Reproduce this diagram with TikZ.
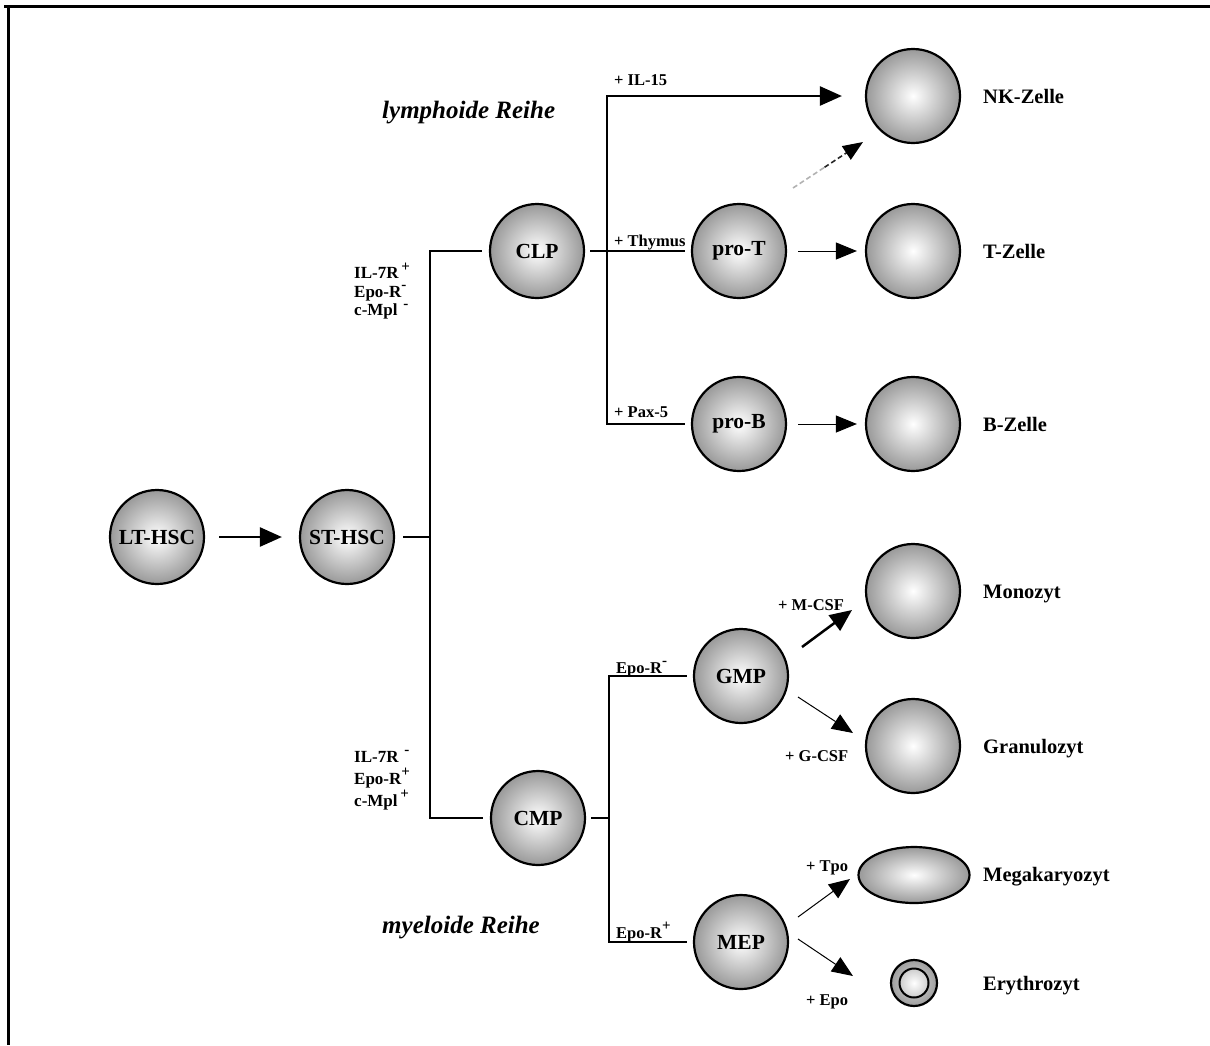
\documentclass[tikz,border=0pt]{standalone}
\usepackage{fontspec}
\setmainfont{Liberation Serif}
\usetikzlibrary{arrows.meta,shapes.geometric,calc}
\newcommand{\supmark}[1]{\raisebox{0.45em}{\fontsize{15}{15}\selectfont #1}}
\begin{document}
\begin{tikzpicture}[x=1pt,y=-1pt,
  cell/.style={circle,draw=black,line width=2.2pt,minimum size=94pt,inner sep=0pt,
    shading=radial,inner color=white,outer color=black!40,
    font=\fontsize{21.5}{23}\bfseries\selectfont},
  lbl/.style={font=\fontsize{16.5}{19}\bfseries\selectfont,inner sep=0pt},
  celllabel/.style={font=\fontsize{20.5}{22}\bfseries\selectfont,inner sep=0pt,anchor=base west},
  titletext/.style={font=\fontsize{25}{28}\bfseries\itshape\selectfont,inner sep=0pt,anchor=west},
  mainline/.style={line width=2.2pt},
  thickarrow/.style={line width=2.5pt,-{Triangle[length=22pt,width=19pt]}},
  thinarrow/.style={line width=1pt,-{Triangle[length=21pt,width=17pt]}},
]
\useasboundingbox (0,0) rectangle (1210,1045);
% frame
\draw[line width=3pt] (4,6) -- (1210,6);
\draw[line width=3pt] (8,5) -- (8,1045);

% cells
\node[cell] (lt) at (157,537) {LT-HSC};
\node[cell] (st) at (347,537) {ST-HSC};
\node[cell] (clp) at (537,251) {CLP};
\node[cell] (cmp) at (538,818) {CMP};
\node[cell] (prot) at (739,251) {pro-T};
\node[cell] (prob) at (739,424) {pro-B};
\node[cell] (gmp) at (741,676) {GMP};
\node[cell] (mep) at (741,942) {MEP};
\node[cell] (nk) at (913,96) {};
\node[cell] (tz) at (913,251) {};
\node[cell] (bz) at (913,424) {};
\node[cell] (mono) at (913,591) {};
\node[cell] (gran) at (913,746) {};
\node[ellipse,draw=black,line width=2.2pt,minimum width=111pt,minimum height=56pt,inner sep=0pt,
  shading=radial,inner color=white,outer color=black!40] (mega) at (914,875) {};
\node[circle,draw=black,line width=2.2pt,minimum size=46pt,inner sep=0pt,
  shading=radial,inner color=black!15,outer color=black!38] (ery) at (914,983) {};
\node[circle,draw=black,line width=2pt,minimum size=29pt,inner sep=0pt,
  shading=radial,inner color=white,outer color=black!20] (eryin) at (ery) {};

% junctions
\coordinate (ja) at (430,537);
\coordinate (jb) at (607,251);
\coordinate (jc) at (609,818);

% connectors
\draw[thickarrow] ([xshift=14pt]lt.east) -- ([xshift=-17pt]st.west);
\draw[mainline] ([xshift=8pt]st.east) -- (ja);
\draw[mainline] ([xshift=-7pt]clp.west) -| (ja) |- ([xshift=-7pt]cmp.west);
\draw[mainline] ([xshift=5pt]clp.east) -- ([xshift=-6pt]prot.west);
\draw[mainline] ([xshift=-6pt]prob.west) -| (jb);
\draw[thickarrow] (jb) |- ([xshift=-23pt]nk.west);
\draw[thinarrow] ([xshift=11pt]prot.east) -- ([xshift=-8pt]tz.west);
\draw[thinarrow] ([xshift=11pt]prob.east) -- ([xshift=-8pt]bz.west);
\coordinate (d1) at (793,188);
\coordinate (d2) at (863,142);
\coordinate (dm) at ($(d1)!0.45!(d2)$);
\draw[line width=1.6pt,black!30,dash pattern=on 5pt off 3pt] (d1) -- (dm);
\draw[line width=1.6pt,black!85,dash pattern=on 5pt off 3pt,
  -{Triangle[length=20pt,width=16pt,fill=black,color=black]}] (dm) -- (d2);

\draw[mainline] ([xshift=5pt]cmp.east) -- (jc);
\draw[mainline] ([xshift=-6pt]gmp.west) -| (jc) |- ([xshift=-6pt]mep.west);

\coordinate (gm1) at (802,647);
\coordinate (gm2) at (852,610);
\draw[thickarrow] (gm1) -- (gm2);
\coordinate (gg1) at (798,697);
\coordinate (gg2) at (853,733);
\draw[thinarrow] (gg1) -- (gg2);
\coordinate (mm1) at (798,917);
\coordinate (mm2) at (850,879);
\draw[thinarrow] (mm1) -- (mm2);
\coordinate (me1) at (798,939);
\coordinate (me2) at (853,976);
\draw[thinarrow] (me1) -- (me2);

% titles
\node[titletext] (tl) at (382,113) {lymphoide Reihe};
\node[titletext] (tm) at (382,928) {myeloide Reihe};

% marker labels
\node[lbl,align=left,anchor=west,font=\fontsize{17}{18.5}\bfseries\selectfont] (mk1) at (354,291)
  {IL-7R\,\supmark{+}\\Epo-R\supmark{-}\\c-Mpl\,\,\supmark{-}};
\node[lbl,align=left,anchor=west,font=\fontsize{17}{22}\bfseries\selectfont] (mk2) at (354,780)
  {IL-7R\,\,\supmark{-}\\Epo-R\supmark{+}\\c-Mpl\,\supmark{+}};

\node[lbl,anchor=base west] (l1) at (614,85) {+ IL-15};
\node[lbl,anchor=base west] (l2) at (614,246) {+ Thymus};
\node[lbl,anchor=base west] (l3) at (614,417) {+ Pax-5};
\node[lbl,anchor=base west] (l4) at (616,673) {Epo-R\supmark{-}};
\node[lbl,anchor=base west] (l5) at (616,938) {Epo-R\supmark{+}};
\node[lbl,anchor=base west] (l6) at (778,610) {+ M-CSF};
\node[lbl,anchor=base west] (l7) at (785,761) {+ G-CSF};
\node[lbl,anchor=base west] (l8) at (806,871) {+ Tpo};
\node[lbl,anchor=base west] (l9) at (806,1005) {+ Epo};

% cell names
\node[celllabel] (n1) at (983,103) {NK-Zelle};
\node[celllabel] (n2) at (983,258) {T-Zelle};
\node[celllabel] (n3) at (983,431) {B-Zelle};
\node[celllabel] (n4) at (983,598) {Monozyt};
\node[celllabel] (n5) at (983,753) {Granulozyt};
\node[celllabel] (n6) at (983,881) {Megakaryozyt};
\node[celllabel] (n7) at (983,990) {Erythrozyt};
\end{tikzpicture}
\end{document}
